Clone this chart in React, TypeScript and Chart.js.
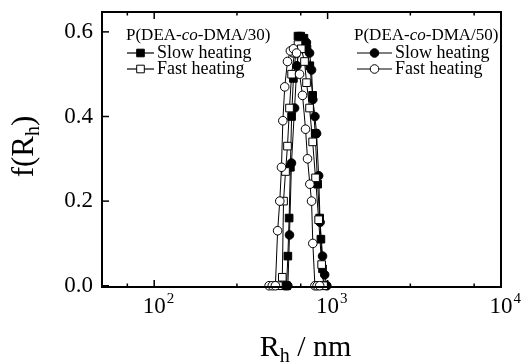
import React, { useEffect, useRef } from 'react';
import { Chart, registerables } from 'chart.js';
Chart.register(...registerables);

// Data (Rh in nm, f(Rh))
const slow30X = [555, 580, 590, 600, 610, 620, 635, 655, 675, 700, 730, 760, 790, 820, 848, 876, 900, 915, 935, 960];
const slow30Y = [0, 0, 0.07, 0.16, 0.28, 0.40, 0.49, 0.55, 0.59, 0.59, 0.585, 0.56, 0.52, 0.45, 0.36, 0.24, 0.16, 0.11, 0.04, 0];

const fast30X = [520, 548, 557, 572, 587, 603, 620, 645, 675, 705, 736, 756, 787, 820, 852, 888, 924, 950];
const fast30Y = [0, 0.02, 0.20, 0.27, 0.33, 0.42, 0.50, 0.55, 0.57, 0.56, 0.53, 0.48, 0.42, 0.34, 0.255, 0.156, 0.05, 0];

const slow50X = [570, 590, 603, 619, 645, 665, 690, 720, 755, 787, 808, 822, 845, 864, 888, 905, 935, 962, 990];
const slow50Y = [0, 0, 0.12, 0.29, 0.42, 0.52, 0.57, 0.58, 0.575, 0.55, 0.51, 0.44, 0.40, 0.36, 0.26, 0.15, 0.07, 0.026, 0];

const fast50X = [460, 480, 500, 515, 530, 542, 552, 566, 587, 610, 636, 662, 689, 717, 746, 766, 790, 808, 822, 845, 870, 900];
const fast50Y = [0, 0, 0, 0.13, 0.20, 0.28, 0.39, 0.47, 0.53, 0.555, 0.56, 0.55, 0.50, 0.45, 0.37, 0.30, 0.24, 0.20, 0.10, 0, 0, 0];

const yTickValues = [0, 0.2, 0.4, 0.6];
const yTickLabels = ['0.0', '0.2', '0.4', '0.6'];
const xMajorValues = [100, 1000, 10000];
const xMajorExp = ['2', '3', '4'];

const legendTitle30 = ['P(DEA-', 'co', '-DMA/30)'];
const legendTitle50 = ['P(DEA-', 'co', '-DMA/50)'];
const legendSlow = 'Slow heating';
const legendFast = 'Fast heating';

const SERIF = '"Liberation Serif", "DejaVu Serif", serif';

function pts(xs: number[], ys: number[]) {
  return xs.map((x, i) => ({ x, y: ys[i] }));
}

function drawMarker(ctx: CanvasRenderingContext2D, kind: string, filled: boolean, x: number, y: number) {
  ctx.beginPath();
  if (kind === 'circle') {
    ctx.arc(x, y, 4.3, 0, Math.PI * 2);
  } else {
    ctx.rect(x - 3.8, y - 3.8, 7.6, 7.6);
  }
  ctx.fillStyle = filled ? '#000' : '#fff';
  ctx.fill();
  ctx.lineWidth = 1;
  ctx.strokeStyle = '#000';
  ctx.stroke();
}

const decorPlugin = {
  id: 'decor',
  afterDraw(chart: any) {
    const { ctx, chartArea: a, scales } = chart;
    const xs = scales.x;
    const ys = scales.y;
    ctx.save();
    // frame
    ctx.strokeStyle = '#000';
    ctx.lineWidth = 2;
    ctx.strokeRect(a.left, a.top, a.right - a.left, a.bottom - a.top);

    // x ticks (inward, top and bottom)
    ctx.lineWidth = 1.5;
    for (const t of xs.ticks) {
      const v = t.value;
      if (v < xs.min || v > xs.max) continue;
      const px = xs.getPixelForValue(v);
      const lg = Math.log10(v);
      const major = Math.abs(lg - Math.round(lg)) < 1e-6;
      const len = major ? 7 : 3.5;
      ctx.beginPath();
      ctx.moveTo(px, a.bottom);
      ctx.lineTo(px, a.bottom - len);
      ctx.moveTo(px, a.top);
      ctx.lineTo(px, a.top + len);
      ctx.stroke();
    }
    // y ticks (inward, left)
    for (const v of yTickValues) {
      const py = ys.getPixelForValue(v);
      ctx.beginPath();
      ctx.moveTo(a.left, py);
      ctx.lineTo(a.left + 7, py);
      ctx.stroke();
    }

    ctx.fillStyle = '#000';
    // y tick labels
    ctx.font = `23px ${SERIF}`;
    ctx.textAlign = 'right';
    ctx.textBaseline = 'middle';
    yTickValues.forEach((v, i) => {
      ctx.fillText(yTickLabels[i], a.left - 9, ys.getPixelForValue(v));
    });
    // x tick labels with superscripts
    ctx.textBaseline = 'alphabetic';
    xMajorValues.forEach((v, i) => {
      const px = xs.getPixelForValue(v);
      ctx.font = `23px ${SERIF}`;
      ctx.textAlign = 'center';
      ctx.fillText('10', px, 313);
      const w = ctx.measureText('10').width;
      ctx.font = `15px ${SERIF}`;
      ctx.textAlign = 'left';
      ctx.fillText(xMajorExp[i], px + w / 2 + 1, 303);
    });

    // x axis title: R_h / nm
    {
      const big = `30px ${SERIF}`;
      const small = `20px ${SERIF}`;
      ctx.font = big;
      const wR = ctx.measureText('R').width;
      const wRest = ctx.measureText(' / nm').width;
      ctx.font = small;
      const wh = ctx.measureText('h').width;
      const total = wR + wh + wRest;
      const cx = (a.left + a.right) / 2 + 4;
      let x = cx - total / 2;
      const base = 356;
      ctx.textAlign = 'left';
      ctx.font = big;
      ctx.fillText('R', x, base);
      x += wR;
      ctx.font = small;
      ctx.fillText('h', x, base + 6);
      x += wh;
      ctx.font = big;
      ctx.fillText(' / nm', x, base);
    }
    // y axis title: f(R_h)
    {
      const big = `31px ${SERIF}`;
      const small = `20px ${SERIF}`;
      ctx.save();
      ctx.translate(33, (a.top + a.bottom) / 2 - 3);
      ctx.rotate(-Math.PI / 2);
      ctx.font = big;
      const w1 = ctx.measureText('f(R').width;
      const w3 = ctx.measureText(')').width;
      ctx.font = small;
      const w2 = ctx.measureText('h').width;
      let x = -(w1 + w2 + w3) / 2;
      ctx.textAlign = 'left';
      ctx.font = big;
      ctx.fillText('f(R', x, 0);
      x += w1;
      ctx.font = small;
      ctx.fillText('h', x, 6);
      x += w2;
      ctx.font = big;
      ctx.fillText(')', x, 0);
      ctx.restore();
    }

    // legends
    const drawTitle = (parts: string[], x: number, y: number) => {
      ctx.textBaseline = 'middle';
      ctx.textAlign = 'left';
      let cx = x;
      parts.forEach((p, i) => {
        ctx.font = i === 1 ? `italic 17px ${SERIF}` : `17px ${SERIF}`;
        ctx.fillText(p, cx, y);
        cx += ctx.measureText(p).width;
      });
    };
    const drawEntry = (x0: number, x1: number, y: number, kind: string, filled: boolean, label: string) => {
      ctx.strokeStyle = '#000';
      ctx.lineWidth = 1.2;
      ctx.beginPath();
      ctx.moveTo(x0, y);
      ctx.lineTo(x1, y);
      ctx.stroke();
      drawMarker(ctx, kind, filled, (x0 + x1) / 2, y);
      ctx.fillStyle = '#000';
      ctx.font = `18px ${SERIF}`;
      ctx.textAlign = 'left';
      ctx.textBaseline = 'middle';
      ctx.fillText(label, x1 + 3, y);
    };
    drawTitle(legendTitle30, 126, 36);
    drawEntry(127, 154, 53, 'rect', true, legendSlow);
    drawEntry(127, 154, 69, 'rect', false, legendFast);
    drawTitle(legendTitle50, 354, 36);
    drawEntry(357, 392, 53, 'circle', true, legendSlow);
    drawEntry(357, 392, 69, 'circle', false, legendFast);

    ctx.restore();
  },
};

export default function App() {
  const ref = useRef<HTMLCanvasElement | null>(null);
  useEffect(() => {
    document.body.style.margin = '0';
    if (!ref.current) return;
    const common = {
      borderColor: '#000',
      borderWidth: 1,
      pointBorderColor: '#000',
      pointBorderWidth: 1,
      tension: 0,
      clip: false as any,
    };
    const chart = new Chart(ref.current, {
      type: 'line',
      data: {
        datasets: [
          {
            ...common,
            label: 'P(DEA-co-DMA/50) Fast heating',
            data: pts(fast50X, fast50Y),
            pointStyle: 'circle',
            pointRadius: 4.3,
            pointBackgroundColor: '#fff',
          },
          {
            ...common,
            label: 'P(DEA-co-DMA/30) Fast heating',
            data: pts(fast30X, fast30Y),
            pointStyle: 'rect',
            pointRadius: 5.4,
            pointBackgroundColor: '#fff',
          },
          {
            ...common,
            label: 'P(DEA-co-DMA/50) Slow heating',
            data: pts(slow50X, slow50Y),
            pointStyle: 'circle',
            pointRadius: 4.3,
            pointBackgroundColor: '#000',
          },
          {
            ...common,
            label: 'P(DEA-co-DMA/30) Slow heating',
            data: pts(slow30X, slow30Y),
            pointStyle: 'rect',
            pointRadius: 5.4,
            pointBackgroundColor: '#000',
          },
        ],
      },
      options: {
        animation: false,
        responsive: true,
        maintainAspectRatio: false,
        layout: { padding: { left: 102, right: 24, top: 12, bottom: 75 } },
        plugins: { legend: { display: false }, tooltip: { enabled: false } },
        scales: {
          x: { type: 'logarithmic', min: 50, max: 10000, display: false },
          y: { type: 'linear', min: -0.003, max: 0.647, display: false },
        },
      },
      plugins: [decorPlugin],
    });
    return () => chart.destroy();
  }, []);
  return (
    <div style={{ width: 525, height: 362, position: 'relative', background: '#fff' }}>
      <canvas ref={ref} />
    </div>
  );
}
